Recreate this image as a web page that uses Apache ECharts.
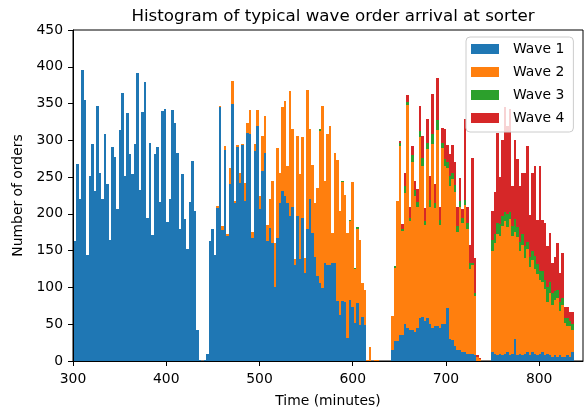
<!DOCTYPE html>
<html>
<head>
<meta charset="utf-8">
<script src="https://cdn.jsdelivr.net/npm/echarts@6/dist/echarts.min.js"></script>
<style>
  html, body { margin: 0; padding: 0; background: #ffffff; }
  #chart { width: 585px; height: 408px; }
</style>
</head>
<body>
<div id="chart"></div>
<script>
// Histogram bins: 200 equal-width bins between these arrival times (minutes)
const binStart = 301;
const binEnd = 837;
const binCount = 200;

const xTicks = [300, 400, 500, 600, 700, 800];
const yTicks = [0, 50, 100, 150, 200, 250, 300, 350, 400, 450];

const waveNames = ['Wave 1', 'Wave 2', 'Wave 3', 'Wave 4'];
const waveColors = ['#1f77b4', '#ff7f0e', '#2ca02c', '#d62728'];

// Orders per bin, one array per wave (stacked in this order)
const wave1 = [
  163, 268, 220, 395, 355, 144, 251, 295, 231, 347,
  256, 220, 308, 240, 165, 291, 277, 206, 314, 364,
  252, 337, 282, 254, 295, 391, 233, 339, 379, 195,
  297, 171, 282, 291, 216, 340, 342, 189, 220, 341,
  324, 283, 180, 254, 193, 152, 216, 272, 204, 42,
  1, 0, 2, 10, 163, 180, 144, 208, 345, 178,
  287, 170, 241, 349, 215, 291, 242, 293, 217, 310,
  309, 167, 285, 320, 206, 258, 283, 163, 181, 160,
  100, 167, 215, 231, 224, 215, 197, 210, 130, 197,
  138, 195, 120, 179, 220, 174, 142, 115, 106, 99,
  133, 131, 131, 133, 133, 81, 63, 81, 80, 31,
  83, 74, 51, 79, 49, 60, 49, 0, 0, 0,
  0, 0, 0, 0, 0, 0, 0, 15, 27, 27,
  36, 35, 50, 45, 42, 42, 40, 45, 58, 60,
  55, 58, 50, 45, 48, 48, 45, 50, 50, 72,
  30, 28, 20, 15, 15, 12, 12, 10, 10, 10,
  8, 0, 0, 0, 0, 0, 0, 12, 10, 8,
  10, 8, 10, 12, 8, 10, 30, 8, 10, 8,
  10, 12, 8, 12, 10, 8, 10, 12, 8, 10,
  8, 6, 8, 6, 8, 6, 6, 8, 6, 12
];

const wave2 = [
  0, 0, 0, 0, 0, 0, 0, 0, 0, 0,
  0, 0, 0, 0, 0, 0, 0, 0, 0, 0,
  0, 0, 0, 0, 0, 0, 0, 0, 0, 0,
  0, 0, 0, 0, 0, 0, 0, 0, 0, 0,
  0, 0, 0, 0, 0, 0, 0, 0, 0, 0,
  0, 0, 0, 0, 0, 0, 0, 3, 2, 5,
  5, 2, 21, 32, 3, 3, 14, 2, 25, 13,
  32, 9, 10, 21, 18, 48, 50, 22, 39, 85,
  60, 123, 40, 114, 130, 50, 170, 105, 8, 109,
  116, 109, 20, 189, 95, 93, 73, 120, 207, 248,
  112, 177, 189, 41, 150, 192, 141, 162, 146, 143,
  107, 169, 74, 101, 116, 46, 48, 2, 19, 0,
  2, 2, 0, 0, 0, 0, 0, 46, 100, 190,
  256, 142, 178, 303, 148, 228, 185, 165, 246, 205,
  130, 230, 160, 250, 160, 266, 140, 240, 215, 190,
  208, 220, 210, 160, 195, 175, 200, 170, 115, 120,
  80, 5, 3, 0, 0, 0, 0, 138, 150, 165,
  160, 175, 180, 170, 185, 160, 145, 160, 140, 150,
  130, 140, 120, 125, 115, 110, 100, 95, 90, 70,
  85, 70, 75, 80, 60, 70, 45, 40, 42, 30
];

const wave3 = [
  0, 0, 0, 0, 0, 0, 0, 0, 0, 0,
  0, 0, 0, 0, 0, 0, 0, 0, 0, 0,
  0, 0, 0, 0, 0, 0, 0, 0, 0, 0,
  0, 0, 0, 0, 0, 0, 0, 0, 0, 0,
  0, 0, 0, 0, 0, 0, 0, 0, 0, 0,
  0, 0, 0, 0, 0, 0, 0, 0, 0, 0,
  0, 0, 0, 0, 0, 0, 0, 0, 0, 0,
  0, 0, 0, 0, 0, 0, 0, 0, 0, 0,
  0, 0, 0, 0, 0, 0, 0, 0, 0, 0,
  0, 0, 0, 0, 0, 0, 0, 0, 2, 0,
  0, 0, 0, 0, 0, 0, 0, 2, 0, 0,
  2, 0, 1, 2, 0, 0, 0, 0, 0, 0,
  0, 0, 0, 0, 0, 0, 0, 0, 2, 1,
  4, 2, 10, 4, 5, 10, 8, 6, 9, 11,
  5, 9, 9, 14, 7, 14, 7, 7, 10, 8,
  13, 8, 9, 9, 7, 7, 7, 7, 8, 3,
  5, 0, 0, 0, 0, 0, 0, 14, 12, 15,
  16, 14, 12, 18, 10, 14, 18, 14, 12, 14,
  16, 10, 14, 12, 18, 14, 12, 16, 12, 20,
  14, 16, 12, 10, 12, 10, 8, 10, 6, 8
];

const wave4 = [
  0, 0, 0, 0, 0, 0, 0, 0, 0, 0,
  0, 0, 0, 0, 0, 0, 0, 0, 0, 0,
  0, 0, 0, 0, 0, 0, 0, 0, 0, 0,
  0, 0, 0, 0, 0, 0, 0, 0, 0, 0,
  0, 0, 0, 0, 0, 0, 0, 0, 0, 0,
  0, 0, 0, 0, 0, 0, 0, 0, 0, 0,
  0, 0, 0, 0, 0, 0, 0, 0, 0, 0,
  0, 0, 0, 0, 0, 0, 0, 0, 0, 0,
  0, 0, 0, 0, 0, 0, 0, 0, 0, 0,
  0, 0, 0, 0, 0, 0, 0, 0, 0, 0,
  0, 0, 0, 0, 0, 0, 0, 0, 0, 0,
  0, 0, 0, 0, 0, 0, 0, 0, 0, 0,
  0, 0, 0, 0, 0, 0, 0, 0, 0, 0,
  3, 7, 18, 10, 15, 12, 12, 18, 34, 30,
  18, 32, 32, 54, 25, 57, 18, 20, 40, 24,
  30, 38, 31, 26, 32, 12, 110, 23, 25, 143,
  47, 3, 1, 0, 0, 0, 0, 40, 58, 122,
  64, 103, 143, 120, 139, 54, 107, 92, 76, 84,
  100, 130, 57, 107, 122, 60, 143, 69, 78, 56,
  67, 41, 47, 64, 40, 61, 15, 16, 12, 16
];

const FONT = 'DejaVu Sans';
const binWidth = (binEnd - binStart) / binCount;
const waves = [wave1, wave2, wave3, wave4];

// Each wave becomes a custom series of rectangles stacked on the ones below it
const stackTop = wave1.map(() => 0);
const series = waves.map((values, k) => {
  const data = values.map((v, i) => {
    const x0 = binStart + i * binWidth;
    const lo = stackTop[i];
    const hi = lo + v;
    stackTop[i] = hi;
    return [x0, x0 + binWidth, lo, hi];
  });
  return {
    name: waveNames[k],
    type: 'custom',
    clip: true,
    itemStyle: { color: waveColors[k] },
    encode: { x: [0, 1], y: [2, 3] },
    renderItem: (params, api) => {
      // snap edges to whole pixels so neighbouring bins and layers meet without seams
      const topLeft = api.coord([api.value(0), api.value(3)]);
      const bottomRight = api.coord([api.value(1), api.value(2)]);
      const x0 = Math.round(topLeft[0]);
      const x1 = Math.round(bottomRight[0]);
      const y0 = Math.round(topLeft[1]);
      const y1 = Math.round(bottomRight[1]);
      return {
        type: 'rect',
        shape: { x: x0, y: y0, width: x1 - x0, height: y1 - y0 },
        style: { fill: waveColors[k] }
      };
    },
    data: data
  };
});

const chart = echarts.init(document.getElementById('chart'), null, { renderer: 'canvas' });
chart.setOption({
  animation: false,
  backgroundColor: '#ffffff',
  title: {
    text: 'Histogram of typical wave order arrival at sorter',
    left: 328,
    top: 3,
    textAlign: 'center',
    textStyle: { fontFamily: FONT, fontSize: 16.7, fontWeight: 'normal', color: '#000' }
  },
  legend: {
    orient: 'vertical',
    left: 466,
    top: 37,
    icon: 'rect',
    itemWidth: 28,
    itemHeight: 10,
    itemGap: 9,
    padding: [5, 9, 7, 5],
    backgroundColor: 'rgba(255,255,255,0.8)',
    borderColor: '#cccccc',
    borderWidth: 1,
    borderRadius: 4,
    textStyle: { fontFamily: FONT, fontSize: 13.9, color: '#000', lineHeight: 14, padding: [0, 0, 0, 9] },
    data: waveNames
  },
  grid: {
    left: 73, right: 2, top: 30, bottom: 47,
    outerBoundsMode: 'none',
    containLabel: false,
    show: true, borderColor: '#000', borderWidth: 1, backgroundColor: 'transparent'
  },
  xAxis: {
    type: 'value',
    min: 300,
    max: 847,
    z: 10,
    name: 'Time (minutes)',
    nameLocation: 'middle',
    nameGap: 33,
    nameTextStyle: { fontFamily: FONT, fontSize: 13.9, color: '#000' },
    axisLine: { show: true, onZero: false, lineStyle: { color: '#000', width: 1 } },
    axisTick: { show: true, length: 5, lineStyle: { color: '#000' }, customValues: xTicks },
    axisLabel: { fontFamily: FONT, fontSize: 13.9, color: '#000', margin: 11, customValues: xTicks },
    splitLine: { show: false }
  },
  yAxis: {
    type: 'value',
    min: 0,
    max: 450,
    interval: 50,
    z: 10,
    name: 'Number of orders',
    nameLocation: 'middle',
    nameGap: 42,
    nameTextStyle: { fontFamily: FONT, fontSize: 13.9, color: '#000' },
    axisLine: { show: true, lineStyle: { color: '#000', width: 1 } },
    axisTick: { show: true, length: 5, lineStyle: { color: '#000' }, customValues: yTicks },
    axisLabel: { fontFamily: FONT, fontSize: 13.9, color: '#000', margin: 10, customValues: yTicks },
    splitLine: { show: false }
  },
  series: series
});
</script>
</body>
</html>
